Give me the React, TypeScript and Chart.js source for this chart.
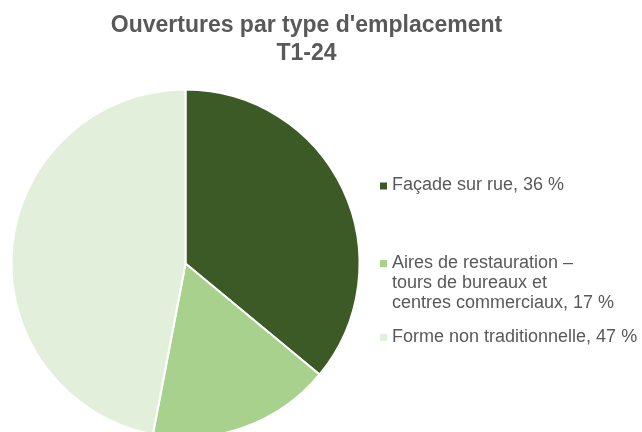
import React, { useEffect, useRef } from "react";
import { Chart, registerables } from "chart.js";

Chart.register(...registerables);

const titleLines = ["Ouvertures par type d'emplacement", "T1-24"];
const categories = [
  "Façade sur rue",
  "Aires de restauration – tours de bureaux et centres commerciaux",
  "Forme non traditionnelle",
];
const shares = [36, 17, 47];
const sliceColors = ["#3B5A26", "#A9D18E", "#E2EFDA"];
const legendLines = [
  ["Façade sur rue, 36 %"],
  ["Aires de restauration –", "tours de bureaux et", "centres commerciaux, 17 %"],
  ["Forme non traditionnelle, 47 %"],
];

// layout (not data)
const legendItemY = [185.5, 263, 337];
const legendLineHeight = 20;
const legendMarkerX = 380;
const legendTextX = 392;

const textColor = "#595959";

const overlayPlugin = {
  id: "overlay",
  afterDraw(chart: any) {
    const ctx = chart.ctx as CanvasRenderingContext2D;
    ctx.save();
    // title
    ctx.fillStyle = textColor;
    ctx.font = "bold 23px 'Liberation Sans', Arial, sans-serif";
    ctx.textAlign = "center";
    ctx.textBaseline = "alphabetic";
    titleLines.forEach((t, i) => ctx.fillText(t, 306.5, 32 + i * 28));
    // legend
    const colors = chart.data.datasets[0].backgroundColor as string[];
    ctx.font = "18px 'Liberation Sans', Arial, sans-serif";
    ctx.textAlign = "left";
    ctx.textBaseline = "middle";
    legendLines.forEach((lines, i) => {
      const y0 = legendItemY[i];
      ctx.fillStyle = colors[i];
      ctx.fillRect(legendMarkerX, y0 - 3, 7, 7);
      ctx.fillStyle = textColor;
      lines.forEach((l, j) => ctx.fillText(l, legendTextX, y0 + j * legendLineHeight));
    });
    ctx.restore();
  },
};

export default function App() {
  const ref = useRef<HTMLCanvasElement | null>(null);
  useEffect(() => {
    document.body.style.margin = "0";
    const chart = new Chart(ref.current!, {
      type: "pie",
      data: {
        labels: categories,
        datasets: [
          {
            data: shares,
            backgroundColor: sliceColors,
            borderColor: "#ffffff",
            borderWidth: 2,
          },
        ],
      },
      options: {
        animation: false,
        responsive: false,
        devicePixelRatio: 1,
        radius: 174,
        layout: { padding: { left: 0, right: 271, top: 95, bottom: 0 } },
        plugins: {
          legend: { display: false },
          title: { display: false },
          tooltip: { enabled: false },
        },
      } as any,
      plugins: [overlayPlugin],
    });
    return () => chart.destroy();
  }, []);
  return (
    <div style={{ width: 642, height: 432, background: "#fff" }}>
      <canvas ref={ref} width={642} height={432} style={{ display: "block" }} />
    </div>
  );
}
